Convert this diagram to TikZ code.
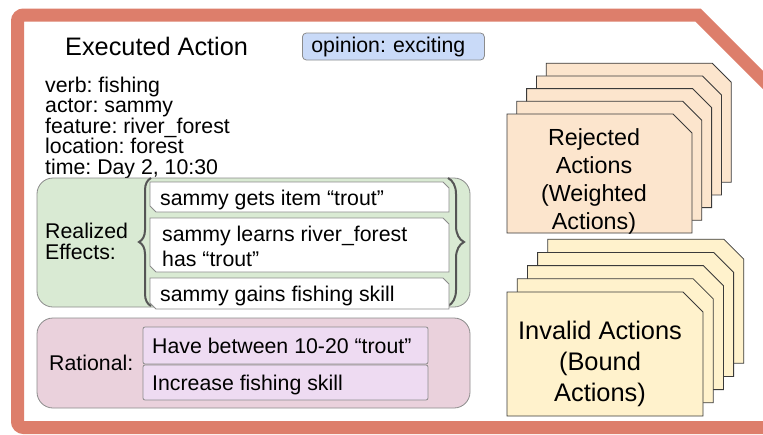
\documentclass[tikz,border=0pt]{standalone}
\usepackage{fontspec}
\setmainfont{Liberation Sans}
\usetikzlibrary{decorations.pathreplacing}
\frenchspacing

\definecolor{framered}{HTML}{DD7E6B}
\definecolor{effectgreen}{HTML}{D9EAD3}
\definecolor{rationalpink}{HTML}{EAD1DC}
\definecolor{goalpurple}{HTML}{EEDBF2}
\definecolor{opinionblue}{HTML}{C9DAF8}
\definecolor{rejectpeach}{HTML}{FCE5CD}
\definecolor{invalidyellow}{HTML}{FFF2CC}
\definecolor{edgegray}{HTML}{8C8C8C}
\definecolor{cardedge}{HTML}{3A3A3A}
\definecolor{bracegray}{HTML}{555555}

% box with a snipped top-right corner
\newcommand\cardshape[6]{%
  \path[#1] ({#2},{#3}) -- ({#4-#6},{#3}) -- ({#4},{#3+#6}) -- ({#4},{#5})
    -- ({#2},{#5}) -- cycle;}
% box with snipped top-right and bottom-left corners
\newcommand\effectshape[6]{%
  \path[#1] ({#2},{#3}) -- ({#4-#6},{#3}) -- ({#4},{#3+#6}) -- ({#4},{#5})
    -- ({#2+#6},{#5}) -- ({#2},{#5-#6}) -- cycle;}

\begin{document}
\begin{tikzpicture}[x=1pt,y=-1pt,
  body/.style={font=\fontsize{21.3}{20.5}\selectfont, text=black, inner sep=0pt},
  titletext/.style={font=\fontsize{25.3}{30}\selectfont, text=black, inner sep=0pt},
  frame/.style={draw=framered, line width=13pt},
  panel/.style={draw=edgegray, line width=0.8pt, rounded corners=16pt},
  effectbox/.style={draw=edgegray, fill=white, line width=0.8pt},
  goalbox/.style={draw=edgegray, fill=goalpurple, line width=0.8pt, rounded corners=2pt},
  bracket/.style={draw=bracegray, line width=2pt,
    decorate, decoration={brace, amplitude=#1}},
  rejcard/.style={draw=cardedge, fill=rejectpeach, line width=0.8pt},
  invcard/.style={draw=cardedge, fill=invalidyellow, line width=0.8pt},
  cardtext/.style={align=center, text=black, inner sep=0pt}
]
\useasboundingbox (0,0) rectangle (763,434);
\clip (0,0) rectangle (763,434);
\fill[white] (0,0) rectangle (763,434);

% outer frame with cut corner (rounded on the left side only)
\draw[frame] (698,15) [rounded corners=6pt] -- (17.5,15) -- (17.5,427.5)
  [sharp corners] -- (770,427.5) -- (770,87) -- cycle;

% header
\node[titletext, anchor=base west] (title) at (65,55) {Executed Action};
\node[body, draw=edgegray, fill=opinionblue, line width=0.8pt, rounded corners=4pt,
      anchor=west, minimum height=27pt, text width=164pt, align=left,
      inner xsep=9pt, inner ysep=0pt] (opinion) at (302,46.5) {opinion: exciting};

% attributes
\node[body, anchor=west, align=left] (attrs) at (45,127.5)
  {verb: fishing\\actor: sammy\\feature: river\_forest\\location: forest\\time: Day 2, 10:30};

% realized effects panel
\node[panel, fill=effectgreen, minimum width=433pt, minimum height=129pt] (effects) at (253.5,242.5) {};
\node[body, anchor=west, align=left] (effectslabel) at (45,241.5) {Realized\\Effects:};
\draw[bracket=12pt] (151,306) -- (151,178);
\draw[bracket=16pt] (448,178) -- (448,306);
\effectshape{effectbox}{150}{182}{449}{212}{6}
\effectshape{effectbox}{150}{218}{449}{272}{6}
\effectshape{effectbox}{150}{278}{449}{309}{6}
\node[body, anchor=base west] (eff1) at (160,205) {sammy gets item “trout”};
\node[body, anchor=north west, align=left, font=\fontsize{21.3}{25}\selectfont] (eff2) at (162,225.5)
  {sammy learns river\_forest\\has “trout”};
\node[body, anchor=base west] (eff3) at (160,301.5) {sammy gains fishing skill};

% rationale panel
\node[panel, fill=rationalpink, minimum width=433pt, minimum height=90pt] (rational) at (253.5,363) {};
\node[body, anchor=west] (rationallabel) at (49,362.5) {Rational:};
\path[goalbox] (143,327) rectangle (428,364);
\path[goalbox] (143,365) rectangle (428,400);
\node[body, anchor=base west] (goal1) at (152,353.3) {Have between 10-20 “trout”};
\node[body, anchor=base west] (goal2) at (152,390) {Increase fishing skill};

% rejected actions stack
\foreach \i in {4,3,2,1,0}{
  \cardshape{rejcard}{507+9.8*\i}{114-12.7*\i}{692+9.8*\i}{233-12.7*\i}{19}
}
\node[cardtext, anchor=north, font=\fontsize{23.3}{28}\selectfont] (rejected) at (594,128.7)
  {Rejected\\Actions\\(Weighted\\Actions)};

% invalid actions stack
\foreach \i in {4,3,2,1,0}{
  \cardshape{invcard}{507+10.2*\i}{292-13.2*\i}{703+10.2*\i}{416-13.2*\i}{20}
}
\node[cardtext, anchor=north, font=\fontsize{25.4}{31}\selectfont] (invalid) at (600,320.5)
  {Invalid Actions\\(Bound\\Actions)};
\end{tikzpicture}
\end{document}
